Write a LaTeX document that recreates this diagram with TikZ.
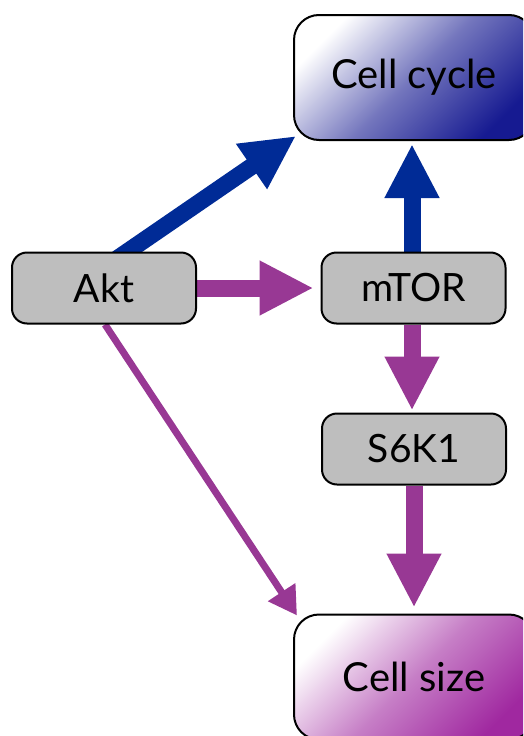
\documentclass[tikz,border=0pt]{standalone}
\usepackage{fontspec}
\setmainfont{Lato}
\usetikzlibrary{arrows.meta,backgrounds}

\definecolor{pathblue}{RGB}{0,43,150}
\definecolor{pathpurple}{RGB}{152,56,148}
\definecolor{boxgray}{RGB}{190,190,190}
\definecolor{cycledark}{RGB}{22,26,145}
\definecolor{sizedark}{RGB}{160,40,160}

\tikzset{
  protein/.style={draw=black, line width=2pt, fill=boxgray, rounded corners=15pt,
    minimum width=184pt, minimum height=71pt, inner sep=0pt,
    font=\fontsize{39}{39}\selectfont},
  outcome/.style={draw=black, line width=2pt, rounded corners=25pt,
    minimum width=240pt, minimum height=125pt, inner sep=0pt,
    font=\fontsize{40}{40}\selectfont},
  diagshade/.style={top color=white, bottom color=#1, middle color=#1!60!white,
    shading angle=45},
  bigarrow/.style={line width=17pt, -{Triangle[length=54pt,width=51pt]}},
  thinarrow/.style={line width=7pt, -{Triangle[length=28pt,width=31pt]}}
}

\begin{document}
\begin{tikzpicture}[x=1pt, y=-1pt]
  \useasboundingbox (0,0) rectangle (523,736);
  \clip (0,0) rectangle (523,736);

  % signalling proteins
  \node[protein] (akt)  at (104,288)   {Akt};
  \node[protein] (mtor) at (413.5,288) {mTOR};
  \node[protein] (s6k)  at (414,449)   {S6K1};

  % cellular outcomes
  \node[outcome, diagshade=cycledark] (cycle) at (414,77.5) {Cell cycle};
  \node[outcome, diagshade=sizedark] (size) at (414,677) {Cell size};

  % connectors, kept behind the boxes
  \begin{scope}[on background layer]
    \draw[bigarrow, pathpurple, shorten >=7pt] (akt.east) -- (mtor.west);
    \draw[bigarrow, pathblue] ([shift={(12,8)}]akt.north) -- ([shift={(3,-5)}]cycle.south west);
    \draw[bigarrow, pathblue, shorten >=3pt] ([xshift=-1.5pt]mtor.north) -- ([xshift=-2pt]cycle.south);
    \draw[bigarrow, pathpurple, shorten >=2pt] ([xshift=-1.5pt]mtor.south) -- ([xshift=-2pt]s6k.north);
    \draw[bigarrow, pathpurple, shorten >=6pt] (s6k.south) -- (size.north);
    \draw[thinarrow, pathpurple] ([xshift=1pt]akt.south) -- ([shift={(4,2)}]size.north west);
  \end{scope}
\end{tikzpicture}
\end{document}
